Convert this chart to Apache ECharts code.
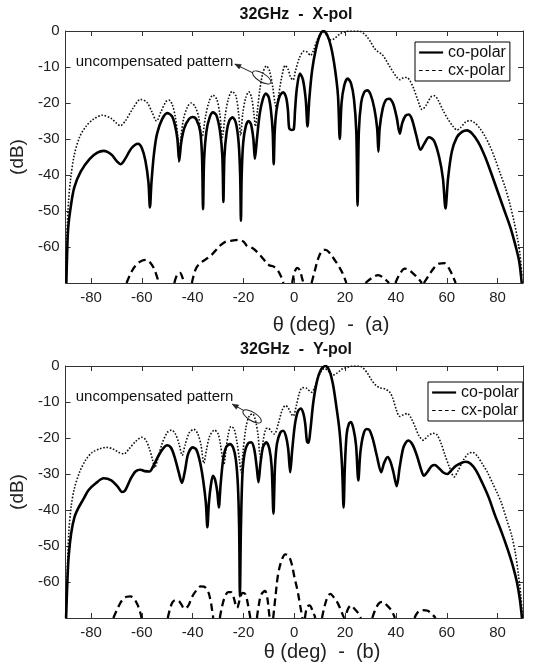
<!DOCTYPE html>
<html>
<head>
<meta charset="utf-8">
<script src="https://cdn.jsdelivr.net/npm/echarts@6/dist/echarts.min.js"></script>
<style>
  html, body { margin: 0; padding: 0; background: #fff; }
  #chart { width: 533px; height: 663px; }
</style>
</head>
<body>
<div id="chart"></div>
<script>
// Radiation patterns at 32 GHz: angle theta (deg) vs level (dB)
const thetaTicks = [-80, -60, -40, -20, 0, 20, 40, 60, 80];
const dbLabels = [0, -10, -20, -30, -40, -50, -60];
const dbTicks = [-10, -20, -30, -40, -50, -60];

// ---- X-pol panel ----
const xpolCo = [[-89.7,-70],[-89.4,-62],[-89,-55],[-88,-49],[-86.6,-43.5],[-84,-39],[-80.5,-35.5],[-77.5,-33.8],[-75,-33.3],[-72,-34.3],[-69.8,-36.2],[-68.4,-37],[-66.8,-35.8],[-64,-32.5],[-61.5,-31.3],[-60,-32.5],[-58.6,-36],[-57.4,-42],[-56.8,-49],[-56.2,-42],[-55.2,-34],[-54,-28.5],[-52,-24.5],[-50,-22.8],[-48.2,-23.6],[-47,-26],[-46,-30],[-45.3,-36],[-44.5,-31],[-43.3,-27],[-41.5,-24.5],[-40,-23.9],[-38.5,-24.6],[-37,-28],[-36.3,-35],[-35.9,-49.5],[-35.5,-36],[-34.6,-28],[-33.3,-24],[-32,-22.6],[-30.6,-23.5],[-29.2,-28],[-28.3,-35],[-27.9,-47.5],[-27.5,-35],[-26.6,-28],[-25.6,-25],[-24.3,-24],[-23,-25.5],[-21.9,-31],[-21.3,-40],[-21,-52.7],[-20.7,-40],[-20.1,-31],[-19.1,-26.5],[-18,-25],[-17,-26],[-16.1,-30],[-15.5,-35.5],[-14.7,-30],[-13.6,-23],[-12.4,-19],[-11.2,-17.4],[-10.1,-18.3],[-9.2,-22],[-8.5,-28],[-8.1,-37],[-7.7,-28],[-7,-22],[-5.8,-18.2],[-4.4,-17],[-3.2,-18.5],[-2.5,-22],[-2,-27],[-1,-27.5],[-0.2,-27.3],[0.3,-22],[1,-16],[2.2,-11.8],[3.4,-13.5],[4.5,-19],[5.2,-26.5],[5.9,-19],[7,-11],[8.5,-5],[10,-1.3],[11.5,0],[13,-1.2],[14.5,-4.5],[16,-10.5],[17.2,-18],[17.9,-30],[18.6,-20],[19.7,-15],[21,-13.2],[22.3,-14.5],[23.5,-19],[24.4,-28],[24.9,-48.5],[25.4,-28],[26.3,-20],[27.5,-17],[28.7,-16.5],[30,-17.6],[31.5,-21.5],[32.6,-27],[33.1,-33.5],[33.6,-27],[34.8,-21.5],[36,-19.2],[37.3,-18.8],[38.8,-20],[40.3,-24],[41.5,-28.5],[42.5,-25.5],[43.8,-23.5],[45,-23.2],[46.3,-24.5],[48,-29],[49.7,-33],[51,-31.5],[53,-29.5],[55,-30.5],[57,-35],[58.5,-41],[59.5,-49.3],[60.5,-41],[62,-33.5],[64,-29.5],[66,-28],[68,-27.6],[70,-28.5],[72.5,-31],[75,-34.8],[77.5,-39.5],[80,-44.5],[82.5,-49.5],[85,-54.5],[87,-59.5],[88.5,-64],[89.5,-70]];

const xpolUncomp = [[-89.9,-68],[-89.5,-57],[-88.8,-47],[-88,-41],[-86.6,-34.5],[-84.5,-29.5],[-82,-26.5],[-79,-24.5],[-75.5,-23.4],[-72,-24.3],[-70,-25.6],[-68.5,-26.3],[-66.5,-25],[-63.5,-21.5],[-60.5,-19],[-58,-19.8],[-56,-22.5],[-54.2,-25],[-52.5,-22.5],[-50.5,-19.6],[-49.3,-19.2],[-48,-20.5],[-46.8,-24],[-45.9,-29],[-45.3,-36.5],[-44.7,-30],[-43.6,-24.5],[-42,-21],[-40.5,-20],[-39,-21],[-37.6,-24],[-36.3,-29.5],[-35,-24],[-33.5,-19.5],[-32,-17.8],[-30.5,-19],[-29.3,-23],[-28.3,-29.5],[-27.3,-24],[-26,-19],[-24.5,-16.8],[-23,-18],[-21.9,-23],[-21.1,-29],[-20.3,-23],[-19.1,-18.5],[-17.9,-16.9],[-16.8,-18.5],[-15.9,-23],[-15.3,-26.5],[-14.5,-22],[-13.5,-16],[-12.3,-11.5],[-11,-9.7],[-9.8,-11],[-8.6,-15],[-7.6,-20],[-7,-21.2],[-6.2,-18],[-5,-13],[-3.6,-9.6],[-2.5,-10.5],[-1.5,-12.8],[-0.5,-13.6],[0.5,-11],[2,-7.5],[3.8,-5.6],[5,-5.8],[6.4,-6.8],[7.5,-5.5],[9,-2.5],[10.5,-0.7],[11.8,-0.4],[13,-1.5],[14.5,-2.5],[16,-2],[18,-0.8],[20,-0.2],[22,0],[24,0],[25.5,0],[27,-0.5],[28.5,-1.5],[30,-3],[31.5,-4.8],[33,-5.8],[34.5,-6.5],[36,-8],[37.5,-9.8],[39,-11.5],[40.5,-13],[41.5,-13.5],[43,-13],[44.3,-12.9],[45.5,-13.8],[47,-16],[48.5,-19],[50.3,-21.8],[52,-20.5],[53.8,-18.3],[55.2,-18],[56.8,-19.5],[58.5,-22],[60.5,-24.5],[62.5,-26.5],[64,-27.5],[65.5,-26.8],[67.5,-25.2],[69.3,-24.9],[71,-25.5],[73,-27],[75,-29.2],[77,-32],[79,-35.5],[81,-39.5],[83,-43.5],[85,-48.5],[86.5,-53],[87.8,-57.5],[88.8,-62],[89.6,-68]];

const xpolCx = [[-66,-70],[-64,-66.8],[-62,-64.8],[-60,-63.8],[-58.2,-63.6],[-56.5,-64.5],[-55,-66.3],[-53.3,-70],[-50,null],
  [-47.2,-70],[-46,-67.5],[-45,-67.2],[-44,-68.5],[-43.3,-70],[-42,null],
  [-40.3,-70],[-39,-66.5],[-37.5,-64.8],[-35,-63.5],[-33,-62.5],[-31,-61],[-29,-59.5],[-27,-58.5],[-25,-58.3],[-22,-58],[-20,-58.5],[-18.5,-59.8],[-16.5,-60.3],[-14,-61.8],[-12,-63.5],[-10,-65],[-8,-65.5],[-6.5,-66.5],[-5,-68.5],[-4.3,-70],[-2,null],
  [-0.8,-70],[0,-67.2],[1.2,-65.8],[2.2,-66.5],[3,-68.5],[3.6,-70],[5,null],
  [6.8,-70],[8,-66.8],[9.5,-63],[11,-61],[12.3,-60.8],[14,-61.7],[15.5,-63.2],[17.2,-65],[19,-67.3],[20.5,-70],[24,null],
  [28,-70],[30.5,-68.6],[33,-67.8],[35.5,-68.8],[37.3,-70],[38.5,null],
  [39.8,-70],[41.5,-67.5],[43.5,-66],[45,-66.3],[46.5,-67.2],[48.5,-68.5],[50.2,-70],[50.6,null],
  [51,-70],[53,-67.8],[55,-65.8],[57,-64.6],[59,-64.5],[60.5,-65.5],[62,-67.5],[63.5,-70]];

// ---- Y-pol panel ----
const ypolCo = [[-89.8,-70],[-89.3,-60],[-88.8,-53],[-87.8,-46.5],[-86.5,-42],[-85,-39.5],[-83,-37],[-81,-34.5],[-78,-32.5],[-75,-31.2],[-72,-31.8],[-69.5,-33.5],[-67.8,-35],[-66.5,-34.5],[-64.5,-31.5],[-62.5,-29.3],[-60.5,-28.8],[-58.8,-29.2],[-57,-29.3],[-55.5,-27.8],[-53.5,-25],[-51.5,-22.8],[-50,-22],[-48.5,-22.7],[-47,-25.5],[-45.5,-29.5],[-44.2,-32.5],[-43,-29],[-41.8,-24.5],[-40,-22.6],[-38.5,-23.3],[-37,-27],[-35.8,-32],[-34.8,-38],[-34.2,-44.8],[-33.6,-38],[-32.8,-33],[-32,-30.5],[-31.2,-31.5],[-30.3,-35],[-29.7,-39.3],[-29,-33],[-28,-26],[-26.8,-22.5],[-25.3,-21.7],[-24,-22.8],[-23,-26],[-22.2,-33],[-21.7,-45],[-21.4,-64],[-21,-45],[-20.4,-30],[-19.5,-24],[-18.2,-21.5],[-17,-21.2],[-15.8,-23],[-14.8,-28],[-14.1,-32.3],[-13.3,-27],[-12.3,-22.5],[-11,-21.2],[-9.8,-23],[-8.9,-28],[-8.2,-41],[-7.6,-28],[-6.8,-21.5],[-5.5,-18.5],[-4.4,-18],[-3.3,-19.5],[-2.4,-23],[-1.6,-29.5],[-0.9,-24],[0.2,-16.5],[1.3,-12.8],[2.5,-11.8],[3.5,-13],[4.3,-16],[5,-21],[5.6,-21.3],[6.3,-18],[7.5,-10],[9,-4],[10.5,-1],[12.2,0],[13.8,-1.3],[15.2,-5],[16.5,-11],[17.8,-18],[18.8,-28],[19.4,-39.3],[19.9,-28],[20.6,-19],[21.5,-16],[22.3,-15.6],[23.3,-17.5],[24.3,-22],[25.2,-31.8],[26,-24],[27.2,-19],[28.5,-17.5],[29.6,-17.8],[31,-20.5],[32.5,-25],[34.2,-29.5],[35.3,-27],[36.7,-25.3],[37.8,-26.5],[39,-29.5],[40.3,-33.4],[41.5,-28],[43,-22.5],[44.8,-20.7],[46.5,-21.8],[48.3,-25],[50,-29],[51,-30.5],[52.3,-29.5],[54,-27.8],[55.3,-27.5],[56.8,-28.3],[58.5,-29.5],[60.2,-30],[61.8,-29],[63.5,-27.8],[65.5,-27],[67.5,-26.6],[69.5,-27.2],[71.5,-29],[74,-32.5],[76.5,-36.5],[79,-41.5],[81.5,-46],[84,-51],[86,-55.5],[87.6,-60],[88.8,-65],[89.6,-70]];

const ypolUncomp = [[-89.9,-66],[-89.4,-58],[-88.7,-46],[-87.8,-39],[-86.6,-34.2],[-84.5,-29.5],[-82,-26],[-79.5,-24],[-76.5,-23],[-74,-22.6],[-71.5,-23],[-69,-24],[-67,-24.4],[-65,-23],[-62.5,-21],[-60,-19.8],[-58.5,-20.5],[-57,-23],[-55.8,-26],[-54.9,-28.3],[-53.8,-26],[-52,-21.5],[-50,-18.5],[-48.3,-17.8],[-46.7,-19],[-45.3,-21.8],[-44.1,-24.8],[-43,-22],[-41.3,-18.5],[-39.5,-17.6],[-38,-18.8],[-36.7,-22],[-35.6,-27],[-34.6,-23.5],[-33.3,-19.5],[-31.4,-17.8],[-30,-18.8],[-29,-22],[-28.2,-26],[-27.7,-27.3],[-27,-24],[-26,-19],[-24.9,-16.8],[-23.7,-17.5],[-22.6,-21],[-21.6,-26],[-20.9,-29.6],[-20.2,-24],[-19,-17],[-17.7,-13.8],[-16.4,-13.3],[-15.3,-15],[-14.3,-19],[-13.6,-24.5],[-13.1,-25.8],[-12.3,-21],[-11.2,-17.5],[-10.2,-17.3],[-9,-18.2],[-7.8,-18.9],[-6.3,-16],[-4.8,-12.3],[-3.5,-11],[-2.5,-11.5],[-1.2,-13.3],[-0.4,-13.9],[0.8,-11],[2,-7.5],[3.2,-6],[4.8,-6.2],[6.8,-7.3],[8,-6],[9.5,-3],[11,-1],[12,-0.7],[13.5,-1.5],[15.2,-2.5],[16.8,-2],[18.5,-1],[20.6,-0.4],[23,0],[25.5,0],[27,-0.5],[28.8,-2],[30.5,-4],[32.3,-5.5],[34,-6.1],[35.8,-6.4],[37.5,-7.2],[38.8,-9],[40.3,-12.5],[41.5,-14],[43,-13.5],[44.5,-13.2],[46,-14.5],[47.5,-16.8],[49,-19.3],[50.8,-20.6],[52.5,-19.5],[54.5,-18.7],[56,-19],[57.5,-21],[59.2,-24.5],[61,-28],[62.9,-30.8],[64.5,-29],[66.5,-26.2],[68.5,-24.3],[70.2,-24],[72,-25],[74,-27.2],[76,-29.5],[78,-32.5],[80,-35.5],[81.5,-38],[83.5,-42.5],[85.5,-47],[87,-52],[88.2,-58],[89.2,-64],[89.8,-70]];

const ypolCx = [[-71.2,-70],[-69.5,-67.3],[-67.8,-65.1],[-66,-64.1],[-64.5,-64],[-63,-64.7],[-61.9,-66],[-60.8,-68],[-60.1,-70],[-55,null],
  [-49.8,-70],[-48.9,-67.5],[-47.9,-65.6],[-46.5,-65],[-45.4,-65.3],[-44.2,-66.5],[-43.4,-67.4],[-42.5,-67.2],[-41.5,-66.3],[-40.3,-64.2],[-38.5,-62.3],[-36.8,-61.2],[-35.5,-61.3],[-34,-62.5],[-33,-65],[-32.3,-68],[-31.9,-70],[-30.5,null],
  [-29.3,-70],[-28.5,-67],[-27.5,-64.5],[-26,-62.8],[-25,-62.8],[-24,-64],[-23,-66.5],[-22.5,-67.2],[-21.5,-65],[-20.3,-63],[-19.2,-63.5],[-18.3,-66],[-17.3,-70],[-16,null],
  [-14.7,-70],[-14,-66.5],[-13,-63.5],[-11.5,-62.5],[-10.6,-64.5],[-10.1,-67.5],[-9.7,-70],[-9,null],
  [-8.3,-70],[-7.4,-64],[-6.4,-58],[-5,-54],[-3.5,-52.3],[-2.2,-52.8],[-1,-55],[0,-58.5],[1.3,-62.5],[2.3,-66.5],[3.2,-70],[3.7,null],
  [4.2,-70],[5,-67],[6,-66.5],[7.2,-68],[8.3,-70],[9.5,null],
  [10.9,-70],[12,-66.5],[13.2,-64],[14.2,-63.3],[15.5,-64.2],[17.2,-66],[18.7,-68.5],[19.8,-70],[20.3,-69],[21.5,-67],[22.4,-66.5],[23.5,-67.3],[25,-68.5],[26.2,-70],[28,null],
  [30.7,-70],[32,-67.5],[33.5,-65.8],[34.8,-65.5],[36.5,-66.5],[38.3,-68],[39.6,-70],[43,null],
  [47.3,-70],[48.5,-68.5],[50.5,-67.8],[52.5,-68],[54.3,-69],[55.6,-70]];

// Text placed on each panel
const panelTitles = ['32GHz  -  X-pol', '32GHz  -  Y-pol'];
const panelXNames = ['\u03b8 (deg)  -  (a)', '\u03b8 (deg)  -  (b)'];
const noteText = 'uncompensated pattern';

const FONT = '"Liberation Sans", Arial, Helvetica, sans-serif';
const AXIS_COLOR = '#333';
const LABEL_COLOR = '#222';

const grids = [
  { left: 56, top: 31, width: 467, height: 252 },
  { left: 56, top: 366, width: 467, height: 252 }
];

function xAxisFor(gridIndex, position, labels) {
  return {
    type: 'value', gridIndex, position, min: -90, max: 90,
    axisLine: { show: true, onZero: false, lineStyle: { color: AXIS_COLOR, width: 1 } },
    axisTick: { show: true, inside: true, length: 5, customValues: thetaTicks, lineStyle: { color: AXIS_COLOR } },
    axisLabel: { show: labels, customValues: thetaTicks, color: LABEL_COLOR, fontSize: 15, fontFamily: FONT, margin: 7 },
    splitLine: { show: false }
  };
}
function yAxisFor(gridIndex, position, labels) {
  const ax = {
    type: 'value', gridIndex, position, min: -70, max: 0,
    axisLine: { show: true, onZero: false, lineStyle: { color: AXIS_COLOR, width: 1 } },
    axisTick: { show: true, inside: true, length: 5, customValues: dbTicks, lineStyle: { color: AXIS_COLOR } },
    axisLabel: { show: labels, customValues: dbLabels, color: LABEL_COLOR, fontSize: 15, fontFamily: FONT, margin: 6 },
    splitLine: { show: false }
  };
  if (labels) {
    ax.name = '(dB)';
    ax.nameLocation = 'middle';
    ax.nameRotate = 90;
    ax.nameGap = 31;
    ax.nameTextStyle = { color: LABEL_COLOR, fontSize: 19, fontFamily: FONT };
  }
  return ax;
}

function panelSeries(p, co, uncomp, cx) {
  const ax = { xAxisIndex: p * 2, yAxisIndex: p * 2 };
  return [
    Object.assign({
      name: 'uncompensated pattern', type: 'line', data: uncomp, symbol: 'none',
      smooth: 0.3, clip: true, z: 2, itemStyle: { color: '#000' },
      lineStyle: { color: '#111', width: 1.6, type: [1.6, 1.7] }
    }, ax),
    Object.assign({
      name: 'cx-polar', type: 'line', data: cx, symbol: 'none', connectNulls: false,
      smooth: 0.35, clip: true, z: 3, itemStyle: { color: '#000' },
      lineStyle: { color: '#000', width: 2.3, type: [7.5, 4.5] }
    }, ax),
    Object.assign({
      name: 'co-polar', type: 'line', data: co, symbol: 'none',
      smooth: 0.3, clip: true, z: 4, itemStyle: { color: '#000' },
      lineStyle: { color: '#000', width: 2.6 }
    }, ax)
  ];
}

function legendFor(left, top) {
  const hidden = { color: 'rgba(0,0,0,0)', borderWidth: 0, opacity: 0 };
  return {
    orient: 'vertical', left, top, padding: [2, 4, 2, 3], itemGap: 1,
    itemWidth: 24, itemHeight: 14,
    backgroundColor: '#fff', borderColor: '#000', borderWidth: 1, borderRadius: 0,
    selectedMode: false,
    textStyle: { color: '#111', fontSize: 16, fontFamily: FONT, lineHeight: 17 },
    data: [
      { name: 'co-polar', itemStyle: hidden, lineStyle: { color: '#000', width: 2.2, type: 'solid' } },
      { name: 'cx-polar', itemStyle: hidden, lineStyle: { color: '#000', width: 1.2, type: [3.5, 3] } }
    ]
  };
}

const chart = echarts.init(document.getElementById('chart'), null, { renderer: 'canvas' });

chart.setOption({
  animation: false,
  backgroundColor: '#fff',
  grid: grids,
  xAxis: [xAxisFor(0, 'bottom', true), xAxisFor(0, 'top', false), xAxisFor(1, 'bottom', true), xAxisFor(1, 'top', false)],
  yAxis: [yAxisFor(0, 'left', true), yAxisFor(0, 'right', false), yAxisFor(1, 'left', true), yAxisFor(1, 'right', false)],
  legend: [legendFor(415, 42), legendFor(428, 382)],
  series: [].concat(
    panelSeries(0, xpolCo, xpolUncomp, xpolCx),
    panelSeries(1, ypolCo, ypolUncomp, ypolCx)
  )
});

// Annotation anchors in data units (theta, dB): label centre, arrow tip, arrow tail, ellipse centre
const notes = [
  { series: 0, label: [-55, -8.6], tip: [-23.4, -9.2], tail: [-16.4, -11.6], ring: [-12.8, -12.9] },
  { series: 3, label: [-55, -8.6], tip: [-24.4, -10.6], tail: [-19.8, -12.4], ring: [-16.6, -14] }
];

const graphics = [];
panelTitles.forEach((t, i) => {
  const g = grids[i];
  graphics.push({
    type: 'text', x: 296, y: g.top - 16, z: 10,
    style: { text: t, font: 'bold 16px ' + FONT, fill: '#111', align: 'center', verticalAlign: 'middle' }
  });
});
graphics.push({
  type: 'text', x: 331, y: 325, z: 10,
  style: { text: panelXNames[0], font: '20px ' + FONT, fill: LABEL_COLOR, align: 'center', verticalAlign: 'middle' }
});
graphics.push({
  type: 'text', x: 322, y: 652, z: 10,
  style: { text: panelXNames[1], font: '20px ' + FONT, fill: LABEL_COLOR, align: 'center', verticalAlign: 'middle' }
});

notes.forEach(n => {
  const finder = { seriesIndex: n.series };
  const lab = chart.convertToPixel(finder, n.label);
  const tip = chart.convertToPixel(finder, n.tip);
  const tail = chart.convertToPixel(finder, n.tail);
  const ring = chart.convertToPixel(finder, n.ring);
  graphics.push({
    type: 'text', x: lab[0], y: lab[1], z: 10,
    style: { text: noteText, font: '15px ' + FONT, fill: '#111', align: 'center', verticalAlign: 'middle' }
  });
  graphics.push({
    type: 'line', z: 10,
    shape: { x1: tail[0], y1: tail[1], x2: tip[0], y2: tip[1] },
    style: { stroke: '#222', lineWidth: 1 }
  });
  const dx = tip[0] - tail[0], dy = tip[1] - tail[1];
  const len = Math.sqrt(dx * dx + dy * dy);
  const ux = dx / len, uy = dy / len;
  const hl = 6, hw = 2.5;
  const bx = tip[0] - ux * hl, by = tip[1] - uy * hl;
  graphics.push({
    type: 'polygon', z: 10,
    shape: { points: [[tip[0], tip[1]], [bx - uy * hw, by + ux * hw], [bx + uy * hw, by - ux * hw]] },
    style: { fill: '#222', stroke: '#222', lineWidth: 0.5 }
  });
  graphics.push({
    type: 'ellipse', z: 10, x: ring[0], y: ring[1], rotation: -0.55,
    shape: { cx: 0, cy: 0, rx: 10.5, ry: 4.2 },
    style: { fill: 'none', stroke: '#222', lineWidth: 1 }
  });
});

chart.setOption({ graphic: graphics });
</script>
</body>
</html>
